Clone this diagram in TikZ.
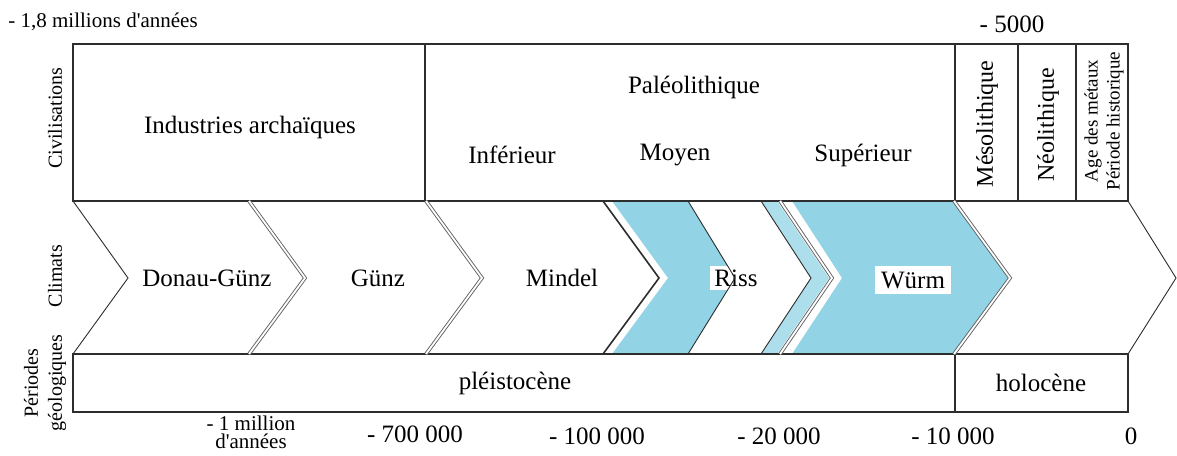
\documentclass[tikz,border=0pt]{standalone}
\usepackage{fontspec}
\setmainfont{Liberation Serif}
\newfontfamily\straight{Liberation Serif}
\usepackage{tikz}

\definecolor{glacier}{RGB}{146,211,230}
\definecolor{trait}{RGB}{45,45,45}

\tikzset{
  frame/.style={draw=trait, line width=0.7pt},
  edge/.style={draw=trait, line width=0.45pt},
  twin/.style={draw=gray!75!black, line width=0.45pt, double=white, double distance=0.9pt},
  lbl/.style={font=\fontsize{12.5}{14}\selectfont, inner sep=1pt},
  small/.style={font=\fontsize{10.5}{9}\selectfont, inner sep=0pt, align=center},
  side/.style={font=\fontsize{10}{12}\selectfont, rotate=90, align=center, inner sep=0pt},
  vert/.style={font=\fontsize{12}{14}\selectfont, rotate=90, inner sep=0pt},
  tiny/.style={font=\fontsize{9.5}{11}\selectfont, rotate=90, align=center, inner sep=0pt},
}

\begin{document}
\begin{tikzpicture}[x=0.5pt, y=-0.5pt]
  \useasboundingbox (0,0) rectangle (1177,455);
  % glacial phases
  \fill[glacier] (612,201) -- (688,201) -- (735,278) -- (688,354) -- (612,354) -- (668,278) -- cycle;
  \fill[glacier!75] (761,201) -- (777,201) -- (829,278) -- (777,354) -- (761,354) -- (811,278) -- cycle;
  \fill[glacier] (792,201) -- (953,201) -- (1008,278) -- (953,354) -- (792,354) -- (842,278) -- cycle;
  % climates
  \node[lbl] (donau) at (207,278) {Donau-Günz};
  \node[lbl] (gunz) at (378,278) {Günz};
  \node[lbl] (mindel) at (562,278) {Mindel};
  \node[lbl, fill=white, inner sep=2pt] (riss) at (736,278) {Riss};
  \node[lbl, fill=white, inner sep=3pt] (wurm) at (913,280) {Würm};
  % frames
  \draw[frame] (73,44) rectangle (1128,201);
  \draw[frame] (73,354) rectangle (1128,412);
  \draw[frame] (425,44) -- (425,201);
  \draw[frame] (955,44) -- (955,201);
  \draw[frame] (1018,44) -- (1018,201);
  \draw[frame] (1076,44) -- (1076,201);
  \draw[frame] (955,354) -- (955,412);
  % chevrons
  \draw[edge] (73,201) -- (128,278) -- (73,354);
  \draw[twin] (249,201) -- (305,278) -- (249,354);
  \draw[twin] (426,201) -- (482,278) -- (426,354);
  \draw[frame, line width=0.8pt] (603,201) -- (659,278) -- (603,354);
  \draw[edge] (688,201) -- (735,278) -- (688,354);
  \draw[edge] (761,201) -- (811,278) -- (761,354);
  \draw[twin] (780,201) -- (832,278) -- (780,354);
  \draw[twin] (954,201) -- (1010,278) -- (954,354);
  \draw[edge] (1128,201) -- (1176,278) -- (1128,354);
  % civilisations
  \node[lbl] (archaic) at (250,127) {Industries archaïques};
  \node[lbl] (paleo) at (694,87) {Paléolithique};
  \node[lbl] (inf) at (512,155) {Inférieur};
  \node[lbl] (moyen) at (675,155) {Moyen};
  \node[lbl] (sup) at (863,155) {Supérieur};
  \node[vert] (meso) at (987,124) {Mésolithique};
  \node[vert] (neo) at (1048,125) {Néolithique};
  \node[tiny] (metaux) at (1104,121) {Age des métaux\\Période historique};
  % periods
  \node[lbl] (pleisto) at (515,383) {pléistocène};
  \node[lbl] (holo) at (1041,383) {holocène};
  % row titles
  \node[side] (civ) at (55,118) {Civilisations};
  \node[side] (clim) at (55,276) {Climats};
  \node[side] (geo) at (45,383) {Périodes\\géologiques};
  % dates
  \node[small, anchor=west] (start) at (8,22) {- 1,8 millions d{\straight'}années};
  \node[lbl, inner sep=0pt] (d5000) at (1012,24) {- 5000};
  \node[small] (million) at (251,432) {- 1 million\\d{\straight'}années};
  \node[lbl, inner sep=0pt] (d700) at (415,434) {- 700 000};
  \node[lbl, inner sep=0pt] (d100) at (597,436) {- 100 000};
  \node[lbl, inner sep=0pt] (d20) at (779,436) {- 20 000};
  \node[lbl, inner sep=0pt] (d10) at (953,436) {- 10 000};
  \node[lbl, inner sep=0pt] (d0) at (1131,436) {0};
\end{tikzpicture}
\end{document}
